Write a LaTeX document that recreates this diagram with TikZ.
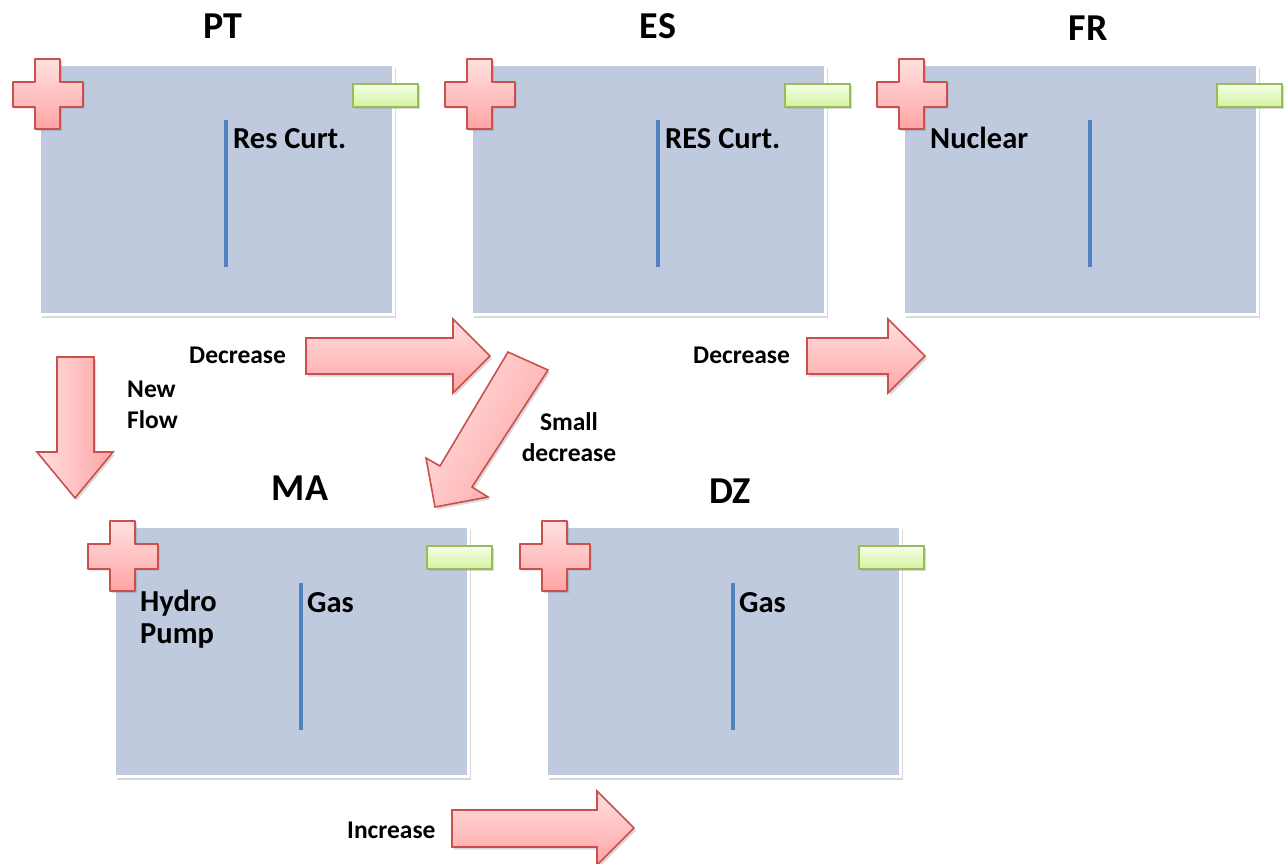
\documentclass[tikz,border=0pt]{standalone}
\usepackage{fontspec}
\setmainfont{Carlito}
\usetikzlibrary{shadows}
\definecolor{boxfill}{HTML}{C0CADF}
\definecolor{divblue}{HTML}{4F81BD}
\definecolor{redline}{HTML}{C9504D}
\definecolor{pinktop}{HTML}{FFE0E0}
\definecolor{pinkbot}{HTML}{FFA4A4}
\definecolor{greenline}{HTML}{9BBB59}
\definecolor{greentop}{HTML}{F6FFE8}
\definecolor{greenbot}{HTML}{D2F2A0}
\tikzset{
  panel/.style={fill=boxfill, draw=white, line width=3pt, inner sep=0pt,
    minimum width=354pt, minimum height=250pt, anchor=north west,
    drop shadow={opacity=0.3, shadow xshift=2.5pt, shadow yshift=-3pt}},
  plusshape/.style={draw=redline, line width=2pt, line join=round, top color=pinktop, bottom color=pinkbot,
    drop shadow={opacity=0.3, shadow xshift=2pt, shadow yshift=-2pt}},
  minusshape/.style={draw=greenline, line width=2pt, top color=greentop, bottom color=greenbot,
    drop shadow={opacity=0.3, shadow xshift=2pt, shadow yshift=-2pt}},
  bigarrow/.style={draw=redline, line width=1.6pt, line join=miter, top color=pinktop, bottom color=pinkbot,
    drop shadow={opacity=0.3, shadow xshift=2pt, shadow yshift=-2.5pt}},
  divider/.style={draw=divblue, line width=4pt},
  title/.style={font=\fontsize{38}{40}\selectfont\bfseries, anchor=base, inner sep=0pt},
  lbl/.style={font=\fontsize{30.5}{31.5}\selectfont\bfseries, anchor=base west, inner sep=0pt, align=left},
  alabel/.style={font=\fontsize{25.5}{31}\selectfont\bfseries, inner sep=0pt},
  plus/.pic={\path[plusshape] (-12.5,-35) -- (12.5,-35) -- (12.5,-12.5) -- (35,-12.5) -- (35,12.5) -- (12.5,12.5) -- (12.5,35) -- (-12.5,35) -- (-12.5,12.5) -- (-35,12.5) -- (-35,-12.5) -- (-12.5,-12.5) -- cycle;},
  minus/.pic={\path[minusshape] (-32.5,-11.5) rectangle (32.5,11.5);}
}
\begin{document}
\begin{tikzpicture}[x=1pt,y=-1pt]
\useasboundingbox (0,0) rectangle (1284,863);
% panels
\node[panel] (PTbox) at (38,63) {};
\node[panel] (ESbox) at (470,63) {};
\node[panel] (FRbox) at (902,63) {};
\node[panel] (MAbox) at (113,525) {};
\node[panel] (DZbox) at (545,525) {};
% titles
\node[title] (PT) at (223,38) {PT};
\node[title] (ES) at (658,38) {ES};
\node[title] (FR) at (1088,40) {FR};
\node[title] (MA) at (300,500) {MA};
\node[title] (DZ) at (730,503) {DZ};
% plus / minus
\pic (PTplus) at (47.5,94) {plus};
\pic (ESplus) at (479.5,94) {plus};
\pic (FRplus) at (911.5,94) {plus};
\pic (MAplus) at (122.5,556) {plus};
\pic (DZplus) at (554.5,556) {plus};
\pic (PTminus) at (385.5,95.5) {minus};
\pic (ESminus) at (817.5,95.5) {minus};
\pic (FRminus) at (1249.5,95.5) {minus};
\pic (MAminus) at (459.5,557.5) {minus};
\pic (DZminus) at (891.5,557.5) {minus};
% dividers
\draw[divider] (226,120) -- (226,267);
\draw[divider] (658,120) -- (658,267);
\draw[divider] (1090,120) -- (1090,267);
\draw[divider] (301,583) -- (301,730);
\draw[divider] (733,583) -- (733,730);
% box labels
\node[lbl] (l1) at (233,148) {Res Curt.};
\node[lbl] (l2) at (665,148) {RES Curt.};
\node[lbl] (l3) at (930,148) {Nuclear};
\node[lbl] (l4) at (140,643) {Hydro\\Pump};
\node[lbl] (l5) at (307,612) {Gas};
\node[lbl] (l6) at (739,612) {Gas};
% block arrows
\path[bigarrow] (306,338) -- (453,338) -- (453,319) -- (490,356) -- (453,393) -- (453,374) -- (306,374) -- cycle;
\path[bigarrow] (807,338) -- (888,338) -- (888,319) -- (925,356) -- (888,393) -- (888,374) -- (807,374) -- cycle;
\path[bigarrow] (452,810) -- (597,810) -- (597,791) -- (634,828) -- (597,865) -- (597,847) -- (452,847) -- cycle;
\path[bigarrow, left color=pinktop, right color=pinkbot] (57,357) -- (94,357) -- (94,452) -- (113,452) -- (75,498) -- (37,452) -- (57,452) -- cycle;
\path[bigarrow, shading angle=60] (508,352) -- (548,370) -- (472,487) -- (488,497) -- (435,507) -- (426,458) -- (440,466) -- cycle;
% arrow labels
\node[alabel, anchor=base west] (a1) at (189,363) {Decrease};
\node[alabel, anchor=base west] (a2) at (693,363) {Decrease};
\node[alabel, anchor=base west, align=left] (a3) at (127,428) {New\\Flow};
\node[alabel, anchor=base, align=center] (a4) at (569,461) {Small\\decrease};
\node[alabel, anchor=base west] (a5) at (347,838) {Increase};
\end{tikzpicture}
\end{document}
